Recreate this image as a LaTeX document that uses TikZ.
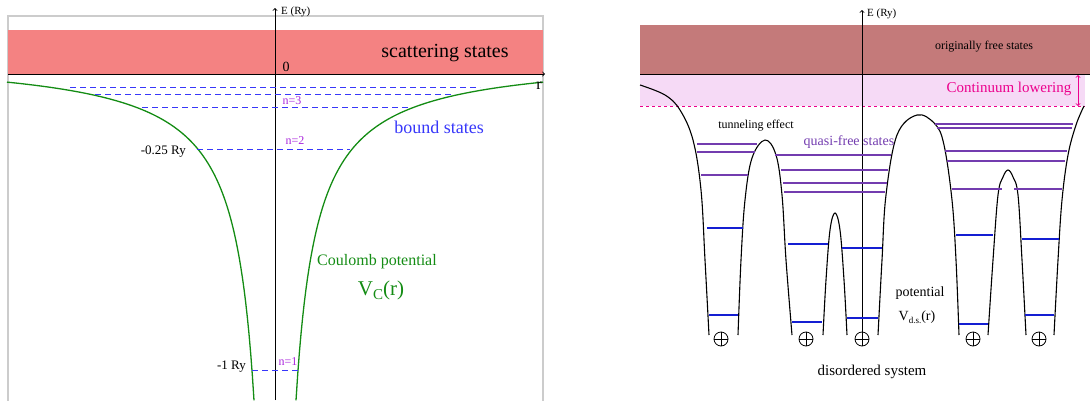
\documentclass[tikz,border=0pt]{standalone}
\usepackage{fontspec}
\setmainfont{Liberation Serif}
\definecolor{scatred}{RGB}{244,130,130}
\definecolor{freered}{RGB}{196,122,122}
\definecolor{lowpink}{RGB}{246,218,246}
\definecolor{boundblue}{RGB}{55,55,250}
\definecolor{nviolet}{RGB}{170,40,220}
\definecolor{coulgreen}{RGB}{20,140,20}
\definecolor{quasiviolet}{RGB}{115,60,175}
\definecolor{levblue}{RGB}{20,30,210}
\tikzset{
  axisline/.style={->,line width=0.9pt},
  dashlevel/.style={draw=boundblue,dash pattern=on 6pt off 4pt,line width=1.3pt},
  wall/.style={line width=1.1pt},
  quasi/.style={draw=quasiviolet,line width=1.1pt},
  bound/.style={draw=levblue,line width=1.1pt},
  lbl/.style={inner sep=0pt},
  nucleus/.style={circle,draw,line width=0.8pt,minimum size=14pt,inner sep=0pt},
}
\begin{document}
\begin{tikzpicture}[x=1pt,y=-1pt]
\useasboundingbox (0,0) rectangle (1090,400);
% left panel: Coulomb potential
\draw[black!20,line width=1.5pt] (8,401) -- (8,16) -- (543,16) -- (543,401);
\fill[scatred] (8,30) rectangle (543,74);
\begin{scope}
\clip (0,0) rectangle (1090,400);
\draw[coulgreen,line width=1.3pt] plot[domain=21:268,samples=150] ({275-\x},{74+296*(24.5/\x-0.064)});
\draw[coulgreen,line width=1.3pt] plot[domain=21:268,samples=150] ({275+\x},{74+296*(24.5/\x-0.064)});
\end{scope}
\coordinate (rL) at (8,74);
\coordinate (rR) at (545,74);
\coordinate (eB) at (275,400);
\coordinate (eT) at (275,8);
\draw[axisline] (rL) -- (rR);
\draw[axisline] (eB) -- (eT);
\draw[dashlevel] (70,87.5) -- (480,87.5);
\draw[dashlevel] (95,94.5) -- (455,94.5);
\draw[dashlevel] (142,107.5) -- (410,107.5);
\draw[dashlevel] (197,149.5) -- (350,149.5);
\draw[dashlevel] (252,370.5) -- (300,370.5);
\node[lbl,anchor=west,font=\fontsize{11}{11}\selectfont] (elabL) at (281,12) {E (Ry)};
\node[lbl,font=\fontsize{14}{14}\selectfont] (zero) at (286,67) {0};
\node[lbl,font=\fontsize{16}{16}\selectfont] (rlabL) at (539,86) {r};
\node[lbl,font=\fontsize{20}{20}\selectfont] (scat) at (445,53) {scattering states};
\node[lbl,nviolet,font=\fontsize{12}{12}\selectfont] (n3) at (292,101) {n=3};
\node[lbl,nviolet,font=\fontsize{12}{12}\selectfont] (n2) at (295,141) {n=2};
\node[lbl,nviolet,font=\fontsize{12}{12}\selectfont] (n1) at (288,362) {n=1};
\node[lbl,anchor=east,font=\fontsize{13}{13}\selectfont] (quarter) at (186,152) {-0.25 Ry};
\node[lbl,anchor=east,font=\fontsize{13}{13}\selectfont] (oneRy) at (246,367) {-1 Ry};
\node[lbl,boundblue,font=\fontsize{18}{18}\selectfont] (bound) at (439,127) {bound states};
\node[lbl,coulgreen,font=\fontsize{16}{16}\selectfont] (coul) at (377,262) {Coulomb potential};
\node[lbl,coulgreen,font=\fontsize{21}{21}\selectfont] (vc) at (381,290) {V\raisebox{-0.45ex}{\fontsize{15}{15}\selectfont C}(r)};
% right panel: disordered system
\fill[freered] (640,25) rectangle (1090,74);
\fill[lowpink] (640,74) rectangle (1085,106);
\draw[magenta,dashed,line width=0.9pt] (640,106) -- (1085,106);
\coordinate (sL) at (640,74);
\coordinate (sR) at (1094,74);
\coordinate (fB) at (862,338);
\coordinate (fT) at (862,10);
\draw[axisline] (sL) -- (sR);
\draw[axisline] (fB) -- (fT);
\coordinate (clT) at (1078,75);
\coordinate (clB) at (1078,106);
\draw[magenta,<->,line width=0.9pt] (clT) -- (clB);
\draw[wall] plot[smooth,tension=0.6] coordinates {(640,85) (665,95) (680,110) (693,140) (701,190) (705,260) (709,335)};
\draw[wall] plot[smooth,tension=0.6] coordinates {(738,335) (741,260) (745,200) (752,158) (765,140) (776,155) (782,195) (786,260) (792,335)};
\draw[wall] plot[smooth,tension=0.6] coordinates {(823,335) (826,280) (830,230) (835,213) (840,230) (844,280) (847,335)};
\draw[wall] plot[smooth,tension=0.6] coordinates {(878,335) (882,260) (886,195) (897,135) (917,115) (935,124) (944,145) (952,200) (956,260) (959,335)};
\draw[wall] plot[smooth,tension=0.6] coordinates {(988,335) (993,260) (998,195) (1003,177) (1008,170) (1013,177) (1018,195) (1022,260) (1026,335)};
\draw[wall] plot[smooth,tension=0.6] coordinates {(1054,335) (1058,260) (1062,200) (1068,155) (1076,125) (1084,106)};
% quasi-free levels
\draw[quasi] (697,144) -- (757,144);
\draw[quasi] (697,152) -- (755,152);
\draw[quasi] (701,175) -- (748,175);
\draw[quasi] (775,155) -- (891,155);
\draw[quasi] (781,170) -- (888,170);
\draw[quasi] (783,183) -- (887,183);
\draw[quasi] (784,192) -- (885,192);
\draw[quasi] (935,124) -- (1073,124);
\draw[quasi] (937,128) -- (1072,128);
\draw[quasi] (945,151) -- (1067,151);
\draw[quasi] (947,161) -- (1065,161);
\draw[quasi] (952,189) -- (1002,189);
\draw[quasi] (1014,189) -- (1062,189);
% bound levels
\draw[bound] (707,228) -- (743,228);
\draw[bound] (709,315) -- (738,315);
\draw[bound] (788,244) -- (828,244);
\draw[bound] (792,322) -- (822,322);
\draw[bound] (842,248) -- (882,248);
\draw[bound] (847,318) -- (878,318);
\draw[bound] (956,235) -- (993,235);
\draw[bound] (959,324) -- (988,324);
\draw[bound] (1022,239) -- (1059,239);
\draw[bound] (1025,315) -- (1054,315);
% nuclei
\foreach \nx/\nm in {721/p1,806/p2,862/p3,973/p4,1039/p5}{
  \node[nucleus] (\nm) at (\nx,339) {};
  \draw[line width=0.8pt] (\nm.north) -- (\nm.south) (\nm.west) -- (\nm.east);
}
\node[lbl,anchor=west,font=\fontsize{11}{11}\selectfont] (elabR) at (867,14) {E (Ry)};
\node[lbl,font=\fontsize{12}{12}\selectfont] (orig) at (984,47) {originally free states};
\node[lbl,magenta,font=\fontsize{15}{15}\selectfont] (lower) at (1009,89) {Continuum lowering};
\node[lbl,font=\fontsize{12}{12}\selectfont] (tunnel) at (756,126) {tunneling effect};
\node[lbl,quasiviolet,font=\fontsize{14}{14}\selectfont] (qfree) at (849,142) {quasi-free states};
\node[lbl,font=\fontsize{14}{14}\selectfont] (pot) at (920,293) {potential};
\node[lbl,font=\fontsize{14}{14}\selectfont] (vds) at (917,317) {V\raisebox{-0.5ex}{\fontsize{9}{9}\selectfont d.s.}(r)};
\node[lbl,font=\fontsize{15}{15}\selectfont] (dis) at (872,372) {disordered system};
\end{tikzpicture}
\end{document}
